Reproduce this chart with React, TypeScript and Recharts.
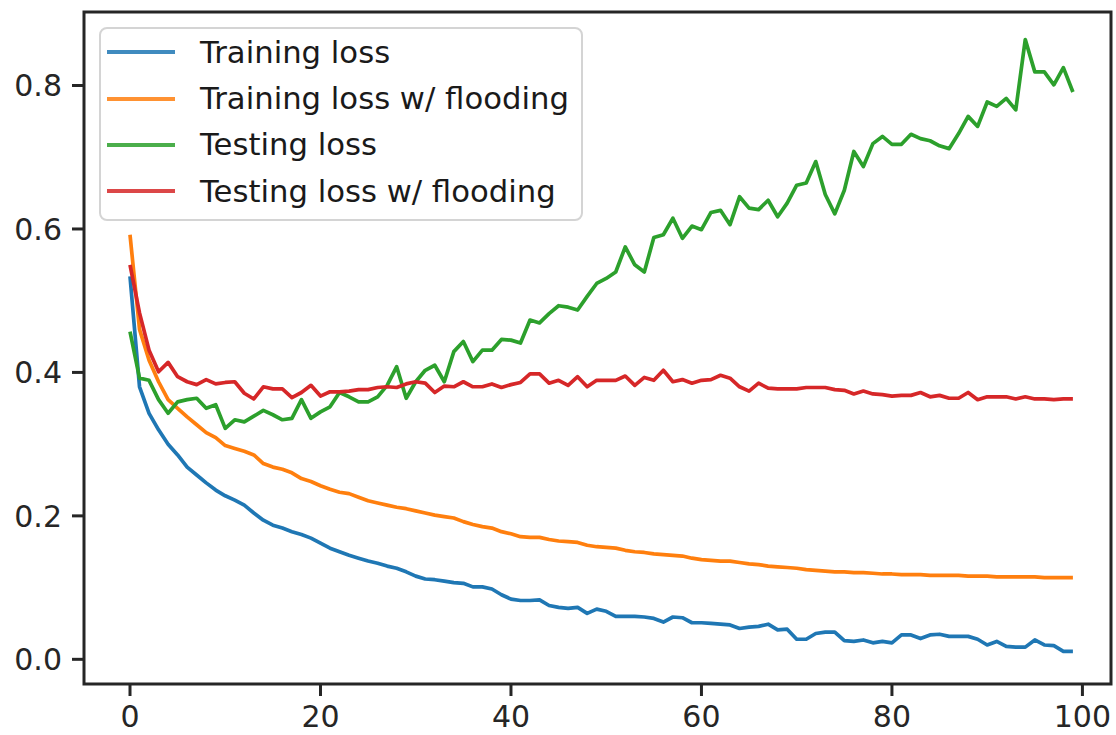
import { Legend, Line, LineChart, ReferenceArea, XAxis, YAxis } from "recharts";

// loss per epoch, 100 epochs
const trainLoss = [
    0.534, 0.38, 0.343, 0.32, 0.3, 0.285, 0.268, 0.257, 0.246, 0.236,
    0.228, 0.222, 0.215, 0.204, 0.194, 0.187, 0.183, 0.178, 0.174, 0.169,
    0.162, 0.155, 0.15, 0.145, 0.141, 0.137, 0.134, 0.13, 0.127, 0.122,
    0.116, 0.112, 0.111, 0.109, 0.107, 0.106, 0.101, 0.101, 0.098, 0.09,
    0.084, 0.082, 0.082, 0.083, 0.075, 0.0725, 0.071, 0.0725, 0.064, 0.07,
    0.067, 0.06, 0.06, 0.06, 0.059, 0.057, 0.052, 0.059, 0.058, 0.051,
    0.051, 0.05, 0.049, 0.048, 0.043, 0.045, 0.046, 0.049, 0.041, 0.042,
    0.028, 0.028, 0.036, 0.038, 0.038, 0.026, 0.025, 0.027, 0.023, 0.025,
    0.023, 0.034, 0.034, 0.029, 0.034, 0.035, 0.032, 0.032, 0.032, 0.028,
    0.02, 0.025, 0.018, 0.017, 0.017, 0.027, 0.02, 0.019, 0.011, 0.011,
];

const trainLossFlood = [
    0.592, 0.46, 0.417, 0.387, 0.362, 0.35, 0.338, 0.327, 0.316, 0.309,
    0.298, 0.294, 0.29, 0.285, 0.273, 0.268, 0.265, 0.26, 0.252, 0.248,
    0.242, 0.237, 0.233, 0.231, 0.226, 0.221, 0.218, 0.215, 0.212, 0.21,
    0.207, 0.204, 0.201, 0.199, 0.197, 0.192, 0.188, 0.185, 0.183, 0.178,
    0.175, 0.171, 0.17, 0.17, 0.167, 0.165, 0.164, 0.163, 0.159, 0.157,
    0.156, 0.155, 0.152, 0.15, 0.149, 0.147, 0.146, 0.145, 0.144, 0.141,
    0.139, 0.138, 0.137, 0.137, 0.135, 0.133, 0.132, 0.13, 0.129, 0.128,
    0.127, 0.125, 0.124, 0.123, 0.122, 0.122, 0.121, 0.121, 0.12, 0.119,
    0.119, 0.118, 0.118, 0.118, 0.117, 0.117, 0.117, 0.117, 0.116, 0.116,
    0.116, 0.115, 0.115, 0.115, 0.115, 0.115, 0.114, 0.114, 0.114, 0.114,
];

const testLoss = [
    0.457, 0.392, 0.389, 0.362, 0.343, 0.359, 0.362, 0.364, 0.35, 0.355,
    0.322, 0.334, 0.331, 0.339, 0.347, 0.341, 0.334, 0.336, 0.362, 0.336,
    0.345, 0.352, 0.372, 0.366, 0.359, 0.359, 0.366, 0.382, 0.408, 0.364,
    0.387, 0.403, 0.41, 0.387, 0.429, 0.443, 0.415, 0.431, 0.431, 0.446,
    0.445, 0.441, 0.473, 0.469, 0.482, 0.493, 0.491, 0.487, 0.506, 0.524,
    0.531, 0.54, 0.575, 0.55, 0.54, 0.588, 0.592, 0.615, 0.587, 0.604,
    0.599, 0.623, 0.626, 0.606, 0.645, 0.629, 0.627, 0.64, 0.617, 0.636,
    0.661, 0.664, 0.694, 0.648, 0.621, 0.654, 0.708, 0.687, 0.719, 0.729,
    0.718, 0.718, 0.732, 0.726, 0.723, 0.716, 0.712, 0.733, 0.757, 0.743,
    0.777, 0.771, 0.782, 0.766, 0.864, 0.819, 0.819, 0.801, 0.825, 0.791,
];

const testLossFlood = [
    0.55, 0.483, 0.431, 0.401, 0.414, 0.394, 0.387, 0.383, 0.39, 0.384,
    0.386, 0.387, 0.371, 0.363, 0.38, 0.377, 0.377, 0.365, 0.372, 0.382,
    0.367, 0.373, 0.373, 0.374, 0.376, 0.376, 0.379, 0.38, 0.379, 0.384,
    0.387, 0.385, 0.372, 0.381, 0.38, 0.387, 0.38, 0.38, 0.384, 0.379,
    0.383, 0.386, 0.398, 0.398, 0.385, 0.389, 0.382, 0.394, 0.38, 0.389,
    0.389, 0.389, 0.395, 0.382, 0.393, 0.389, 0.403, 0.387, 0.39, 0.385,
    0.389, 0.39, 0.396, 0.392, 0.38, 0.374, 0.385, 0.378, 0.377, 0.377,
    0.377, 0.379, 0.379, 0.379, 0.376, 0.375, 0.37, 0.374, 0.37, 0.369,
    0.367, 0.368, 0.368, 0.372, 0.366, 0.368, 0.364, 0.364, 0.372, 0.362,
    0.366, 0.366, 0.366, 0.363, 0.366, 0.363, 0.363, 0.362, 0.363, 0.363,
];

const epochs = trainLoss.map((_, i) => i);

const seriesKeys = ["train", "trainFlood", "test", "testFlood"];
const seriesNames = ["Training loss", "Training loss w/ flooding", "Testing loss", "Testing loss w/ flooding"];
const seriesColors = ["#1f77b4", "#ff7f0e", "#2ca02c", "#d62728"];

const xTicks = [0, 20, 40, 60, 80, 100];
const yTicks = [0, 0.2, 0.4, 0.6, 0.8];

const X_MIN = -4.83;
const X_MAX = 103;
const Y_MIN = -0.0344;
const Y_MAX = 0.9025;

const FONT = "'DejaVu Sans', sans-serif";
const INK = "#262626";

const rows = epochs.map((epoch, i) => ({
    epoch,
    train: trainLoss[i],
    trainFlood: trainLossFlood[i],
    test: testLoss[i],
    testFlood: testLossFlood[i],
}));

function LossLegend() {
    return (
        <div
            style={{
                boxSizing: "border-box",
                width: 484,
                height: 194,
                border: "2.5px solid #d4d4d4",
                borderRadius: 8,
                background: "rgba(255,255,255,0.8)",
                fontFamily: FONT,
                fontSize: 30.7,
                color: "#1a1a1a",
            }}
        >
            {seriesNames.map((name, i) => (
                <div key={name} style={{ display: "flex", alignItems: "center", height: 46.4 }}>
                    <div style={{ marginLeft: 5.5, width: 68, height: 4, background: seriesColors[i], opacity: 0.85 }} />
                    <span style={{ marginLeft: 25.5, whiteSpace: "nowrap" }}>{name}</span>
                </div>
            ))}
        </div>
    );
}

export default function App() {
    const tickStyle = { fill: INK, fontSize: 30, fontFamily: FONT };
    const tickLine = { stroke: INK, strokeWidth: 3 };

    return (
        <div style={{ position: "fixed", left: 0, top: 0, width: 1116, height: 735, background: "#fff" }}>
            <LineChart width={1116} height={735} data={rows} margin={{ top: 12, right: 5, bottom: 0, left: 0 }}>
                <XAxis
                    type="number"
                    dataKey="epoch"
                    domain={[X_MIN, X_MAX]}
                    ticks={xTicks}
                    interval={0}
                    allowDataOverflow
                    height={51}
                    axisLine={false}
                    tickLine={tickLine}
                    tickSize={12}
                    tickMargin={10}
                    tick={tickStyle}
                />
                <YAxis
                    type="number"
                    domain={[Y_MIN, Y_MAX]}
                    ticks={yTicks}
                    interval={0}
                    allowDataOverflow
                    width={84}
                    axisLine={false}
                    tickLine={tickLine}
                    tickSize={12}
                    tickMargin={10}
                    tick={tickStyle}
                    tickFormatter={(v: number) => v.toFixed(1)}
                />
                {seriesKeys.map((key, i) => (
                    <Line
                        key={key}
                        type="linear"
                        dataKey={key}
                        name={seriesNames[i]}
                        stroke={seriesColors[i]}
                        strokeWidth={3.7}
                        strokeLinejoin="round"
                        dot={false}
                        activeDot={false}
                        isAnimationActive={false}
                    />
                ))}
                {/* axes frame */}
                <ReferenceArea
                    x1={X_MIN}
                    x2={X_MAX}
                    y1={Y_MIN}
                    y2={Y_MAX}
                    fill="none"
                    fillOpacity={0}
                    stroke={INK}
                    strokeWidth={3}
                    ifOverflow="visible"
                />
                <Legend
                    layout="vertical"
                    align="center"
                    verticalAlign="middle"
                    content={() => <LossLegend />}
                    wrapperStyle={{ left: 99, top: 27, width: 484, height: 194 }}
                />
            </LineChart>
        </div>
    );
}
